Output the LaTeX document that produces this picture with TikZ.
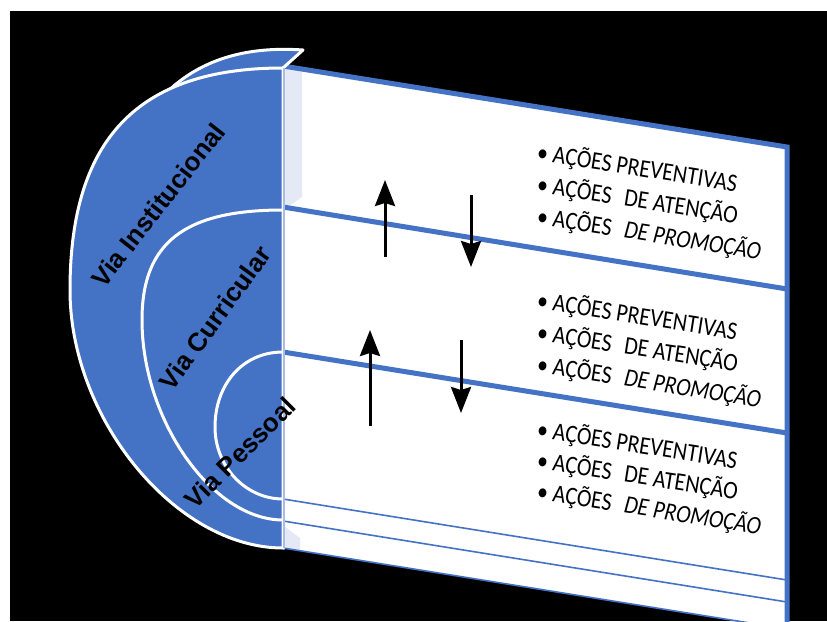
\documentclass[tikz,border=0pt]{standalone}
\usepackage{fontspec}
\usepackage{graphicx}
\setmainfont{Carlito}
\newfontfamily\labelfont{Liberation Sans}
\usetikzlibrary{arrows.meta}
\definecolor{vblue}{HTML}{4472C4}
\definecolor{vlav}{HTML}{E4E9F5}
\definecolor{vedge}{HTML}{A9BCE4}
\newcommand{\itemtext}[1]{\scalebox{1}[1.15]{#1}}
\begin{document}
\begin{tikzpicture}[x=1pt,y=1pt,
  divthick/.style={vblue, line width=5pt},
  divthin/.style={vblue, line width=1.6pt},
  arcline/.style={white, line width=3pt},
  arr/.style={line width=3pt, -{Stealth[width=20pt,length=26pt,inset=3pt]}},
  item/.style={anchor=base west, rotate=-9, inner sep=0pt, font=\fontsize{22}{26}\selectfont},
  vialabel/.style={font=\labelfont\bfseries\fontsize{26}{30}\selectfont, text=black, inner sep=0pt}]
\useasboundingbox (0,0) rectangle (827,-621);
\clip (0,0) rectangle (827,-621);
\fill[white] (0,0) rectangle (827,-621);
\fill[black] (10,-11) rectangle (827,-621);

% panel
\fill[white] (283,-66) -- (787,-147) -- (787,-629) -- (283,-548) -- cycle;
\fill[vlav] (283,-68) -- (302,-71) -- (302,-197) -- (283,-210) -- cycle;
\fill[vlav] (284,-526) -- (300,-538) -- (300,-550) -- (284,-548) -- cycle;

% dividers
\coordinate (d1a) at (283,-207); \coordinate (d1b) at (787,-289);
\coordinate (d2a) at (283,-352); \coordinate (d2b) at (787,-433);
\coordinate (d3a) at (283,-499); \coordinate (d3b) at (787,-580);
\coordinate (d4a) at (283,-521); \coordinate (d4b) at (787,-602);
\coordinate (d5a) at (283,-548); \coordinate (d5b) at (787,-629);
\draw[divthick] (d1a) -- (d1b);
\draw[divthick] (d2a) -- (d2b);
\draw[divthin] (d3a) -- (d3b);
\draw[divthin] (d4a) -- (d4b);
\draw[divthin] (d5a) -- (d5b);
\coordinate (ptl) at (283,-66); \coordinate (ptr) at (787,-147); \coordinate (pbr) at (787,-640);
\draw[vblue, line width=5pt, line join=miter] (ptl) -- (ptr) -- (pbr);

% lid
\fill[vblue] (283,-68) -- (303,-50) .. controls (245,-46) and (200,-60) .. (166,-93)
  -- (200,-140) -- (283,-140) -- cycle;
\draw[arcline, line join=round] (283,-68) -- (303,-50) .. controls (245,-46) and (200,-60) .. (166,-93);

% outer half disc
\filldraw[fill=vblue, draw=white, line width=3pt]
  (283,-68) .. controls (138,-68) and (70,-139) .. (70,-290)
  .. controls (70,-419) and (176,-548) .. (283,-548) -- cycle;
% middle arc
\draw[arcline] (283,-210) .. controls (184,-210) and (142,-243) .. (142,-320)
  .. controls (142,-420) and (212,-520) .. (283,-520);
% inner arc
\draw[arcline] (283,-352) .. controls (242,-352) and (215,-385) .. (215,-427)
  .. controls (215,-467) and (246,-499) .. (283,-499);
\draw[vedge, line width=1.5pt] (284,-68) -- (284,-548);

% labels
\node[vialabel, rotate=52] (inst) at (158,-205) {Via Institucional};
\node[vialabel, rotate=54] (curr) at (215,-318) {Via Curricular};
\node[vialabel, rotate=45] (pess) at (240,-453) {Via Pessoal};

% arrows
\coordinate (a1s) at (385,-257); \coordinate (a1e) at (385,-180);
\coordinate (a2s) at (471,-195); \coordinate (a2e) at (471,-267);
\coordinate (a3s) at (370,-426); \coordinate (a3e) at (370,-330);
\coordinate (a4s) at (461,-340); \coordinate (a4e) at (461,-413);
\draw[arr] (a1s) -- (a1e);
\draw[arr] (a2s) -- (a2e);
\draw[arr] (a3s) -- (a3e);
\draw[arr] (a4s) -- (a4e);

% items
\node[item] (g1a) at (536,-160) {\itemtext{• AÇÕES PREVENTIVAS}};
\node[item] (g1b) at (536,-192) {\itemtext{• AÇÕES\hspace{8pt} DE ATENÇÃO}};
\node[item] (g1c) at (536,-224) {\itemtext{• AÇÕES\hspace{8pt} \textit{DE PROMOÇÃO}}};
\node[item] (g2a) at (536,-308) {\itemtext{• AÇÕES PREVENTIVAS}};
\node[item] (g2b) at (536,-340) {\itemtext{• AÇÕES\hspace{8pt} DE ATENÇÃO}};
\node[item] (g2c) at (536,-372) {\itemtext{• AÇÕES\hspace{8pt} \textit{DE PROMOÇÃO}}};
\node[item] (g3a) at (536,-437) {\itemtext{• AÇÕES PREVENTIVAS}};
\node[item] (g3b) at (536,-468) {\itemtext{• AÇÕES\hspace{8pt} DE ATENÇÃO}};
\node[item] (g3c) at (536,-499) {\itemtext{• AÇÕES\hspace{8pt} \textit{DE PROMOÇÃO}}};
\end{tikzpicture}
\end{document}
